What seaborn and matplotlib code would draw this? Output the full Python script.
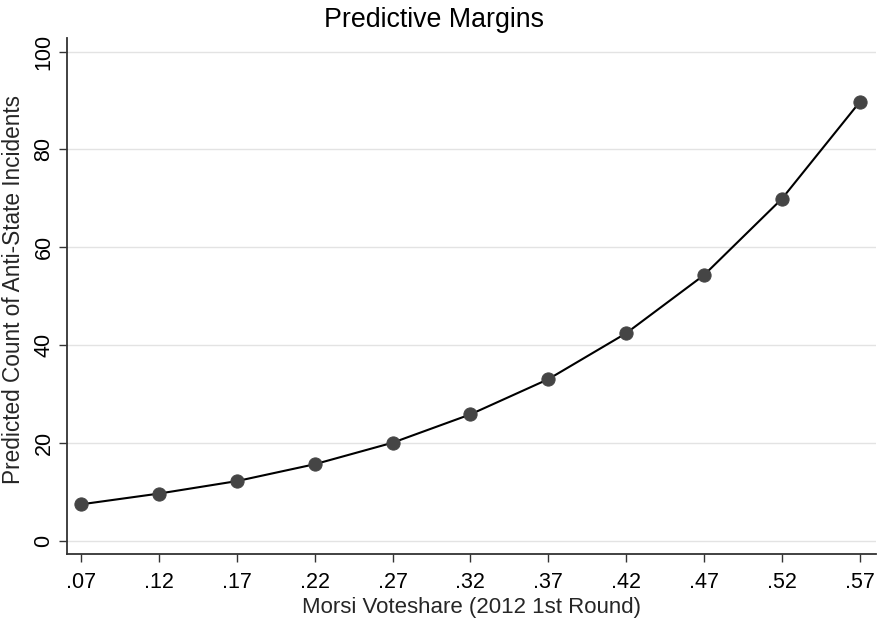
import matplotlib
matplotlib.use("Agg")
import matplotlib.pyplot as plt
import seaborn as sns
import pandas as pd

voteshare = [0.07, 0.12, 0.17, 0.22, 0.27, 0.32, 0.37, 0.42, 0.47, 0.52, 0.57]
predicted = [7.4, 9.6, 12.15, 15.6, 20.0, 25.8, 33.0, 42.4, 54.3, 69.9, 89.7]
xtick_labels = [".07", ".12", ".17", ".22", ".27", ".32", ".37", ".42", ".47", ".52", ".57"]
yticks = [0, 20, 40, 60, 80, 100]

df = pd.DataFrame({"x": voteshare, "y": predicted})

sns.set_theme(style="white")
plt.rcParams["font.family"] = ["Liberation Sans", "DejaVu Sans"]

fig = plt.figure(figsize=(8.82, 6.22), dpi=100)
ax = fig.add_axes([0.076, 0.109, 0.917, 0.830])

sns.lineplot(data=df, x="x", y="y", ax=ax, color="black", linewidth=1.5,
             marker="o", markersize=9.5, markerfacecolor="#454545",
             markeredgecolor="#454545", zorder=3)

ax.set_xlim(0.061, 0.5803)
ax.set_ylim(-2.8, 102.8)
ax.set_xticks(voteshare)
ax.set_xticklabels(xtick_labels)
ax.set_yticks(yticks)
ax.set_yticklabels([str(v) for v in yticks], rotation=90, va="center")

ax.yaxis.grid(True, color="#e3e3e3", linewidth=1.0)
ax.xaxis.grid(False)
ax.set_axisbelow(True)

for s in ["top", "right"]:
    ax.spines[s].set_visible(False)
for s in ["left", "bottom"]:
    ax.spines[s].set_color("#333333")
    ax.spines[s].set_linewidth(1.3)

ax.tick_params(axis="both", which="both", direction="out", length=6, width=1.0,
               color="#333333", labelsize=15.5, labelcolor="black",
               bottom=True, left=True)
ax.tick_params(axis="x", pad=6.5)
ax.tick_params(axis="y", pad=3)

ax.set_xlabel("Morsi Voteshare (2012 1st Round)", fontsize=16, labelpad=3)
ax.set_ylabel("Predicted Count of Anti-State Incidents", fontsize=16.3)
ax.yaxis.set_label_coords(-0.052, 0.513)
fig.text(433.5 / 882, 1 - 27 / 622, "Predictive Margins", fontsize=19.3,
         ha="center", va="baseline", color="black")

fig.savefig("out.png", dpi=100)
